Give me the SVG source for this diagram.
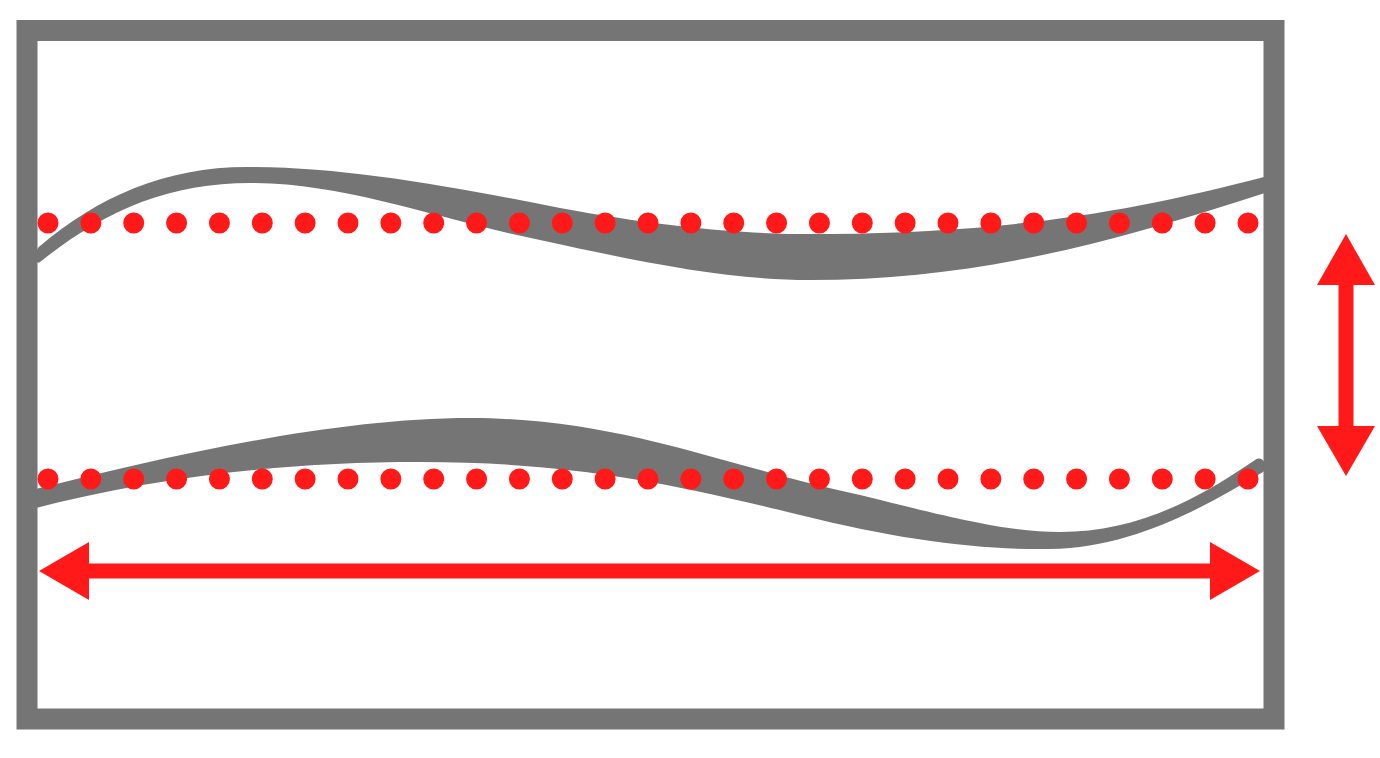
<svg xmlns="http://www.w3.org/2000/svg" width="1380" height="758" viewBox="0 0 1380 758">
  <style>
    .band { fill: #757575; stroke: none; }
    .frame { fill: none; stroke: #757575; stroke-width: 21; }
    .dots { stroke: #FF1919; stroke-width: 21; stroke-linecap: round; stroke-dasharray: 0 42.857; fill: none; }
    .shaft { stroke: #FF1919; stroke-width: 15; fill: none; }
    .head { fill: #FF1919; stroke: none; }
  </style>
  <rect width="1380" height="758" fill="#ffffff"/>
  <g id="top-band">
    <path class="band" d="M40,246 C100,195 170,165 255,167 C350,168 450,186 560,208 C680,230 760,235 830,234 C1000,232 1120,215 1268,176 L1268,192 C1120,240 980,280 810,280 C730,280 650,264 540,240 C440,220 350,184 255,183 C170,182 105,210 40,262 C34,266 34,250 40,246 Z"/>
  </g>
  <g id="bottom-band">
    <path class="band" d="M32,490 C160,458 330,418 470,418 C620,418 720,465 860,495 C960,520 1010,532 1060,532 C1130,532 1190,505 1255,460 C1264,454 1268,468 1263,472 C1200,510 1130,548 1050,549 C980,550 900,540 800,515 C660,480 560,462 420,462 C280,462 150,478 32,509 Z"/>
  </g>
  <g id="frame">
    <rect class="frame" x="27" y="30.5" width="1247" height="688.5"/>
  </g>
  <g id="dotted-lines">
    <line class="dots" x1="48" y1="223" x2="1249" y2="223"/>
    <line class="dots" x1="48" y1="479" x2="1249" y2="479"/>
  </g>
  <g id="connectors">
    <g id="horizontal-arrow">
      <line class="shaft" x1="85" y1="571" x2="1214" y2="571"/>
      <polygon class="head" points="39,571 89,542 89,600"/>
      <polygon class="head" points="1260,571 1210,542 1210,600"/>
    </g>
    <g id="vertical-arrow">
      <line class="shaft" x1="1346" y1="281" x2="1346" y2="430"/>
      <polygon class="head" points="1346,234 1317,285 1375,285"/>
      <polygon class="head" points="1346,476 1317,426 1375,426"/>
    </g>
  </g>
</svg>
